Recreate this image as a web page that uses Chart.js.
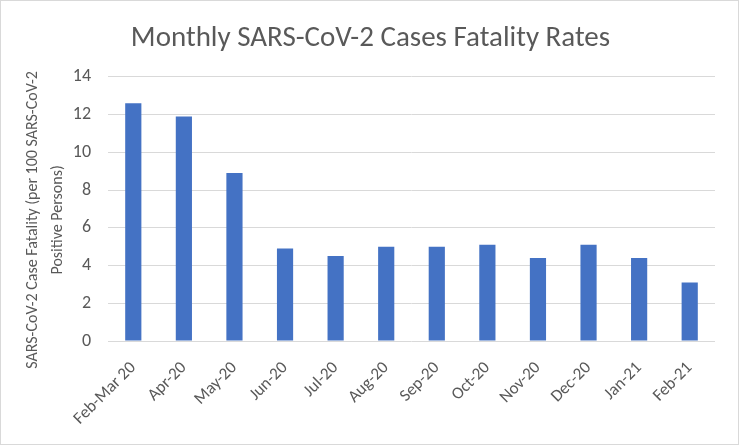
<!DOCTYPE html>
<html>
<head>
<meta charset="utf-8">
<script src="https://cdn.jsdelivr.net/npm/chart.js@4"></script>
<style>
html,body{margin:0;padding:0;background:#fff;}
#wrap{width:739px;height:445px;position:relative;}
</style>
</head>
<body>
<div id="wrap"><canvas id="c" width="739" height="445"></canvas></div>
<script>
const categories = ["Feb-Mar 20","Apr-20","May-20","Jun-20","Jul-20","Aug-20","Sep-20","Oct-20","Nov-20","Dec-20","Jan-21","Feb-21"];
const fatalityRates = [12.6,11.9,8.9,4.9,4.5,5.0,5.0,5.1,4.4,5.1,4.4,3.1];
const yTicks = [0,2,4,6,8,10,12,14];
const yTitleLines = ['SARS-CoV-2 Case Fatality (per 100 SARS-CoV-2','Positive Persons)'];

const FONT = "Carlito, 'Open Sans', sans-serif";
const border = {
  id:'border',
  afterDraw(chart){
    const ctx = chart.ctx;
    ctx.save();
    ctx.strokeStyle = '#d9d9d9';
    ctx.lineWidth = 1;
    ctx.strokeRect(0.5,0.5,chart.width-1,chart.height-1);
    ctx.restore();
  }
};
const yTitle = {
  id:'yTitle',
  afterDraw(chart){
    const ctx = chart.ctx;
    const a = chart.chartArea;
    const cy = (a.top + a.bottom)/2 + 11;
    const xs = [33, 58];
    ctx.save();
    ctx.fillStyle = '#595959';
    ctx.font = "16px " + FONT;
    ctx.textAlign = 'center';
    ctx.textBaseline = 'middle';
    yTitleLines.forEach((t,i)=>{
      ctx.save();
      ctx.translate(xs[i], cy);
      ctx.rotate(-Math.PI/2);
      ctx.fillText(t,0,0);
      ctx.restore();
    });
    ctx.restore();
  }
};

new Chart(document.getElementById('c'), {
  type:'bar',
  data:{
    labels:categories,
    datasets:[{
      data:fatalityRates,
      backgroundColor:'#4472C4',
      borderColor:'#4472C4',
      borderWidth:0,
      barPercentage:0.32,
      categoryPercentage:1.0
    }]
  },
  options:{
    responsive:false,
    animation:false,
    devicePixelRatio:1,
    layout:{padding:{left:26,right:24,top:0,bottom:0}},
    plugins:{
      legend:{display:false},
      tooltip:{enabled:false},
      title:{
        display:true,
        text:'Monthly SARS-CoV-2 Cases Fatality Rates',
        color:'#595959',
        font:{family:FONT,size:29,weight:'normal'},
        padding:{top:21,bottom:21}
      }
    },
    scales:{
      x:{
        grid:{display:false,drawTicks:false},
        border:{display:false},
        ticks:{
          color:'#595959',
          font:{family:FONT,size:17},
          minRotation:45,maxRotation:45,
          autoSkip:false,
          padding:17
        },
        afterFit(s){ s.height = 104; }
      },
      y:{
        min:0,max:14,
        afterBuildTicks(s){ s.ticks = yTicks.map(v=>({value:v})); },
        grid:{color:'#d9d9d9',lineWidth:1,drawTicks:false},
        border:{display:false},
        ticks:{
          color:'#595959',
          font:{family:FONT,size:18},
          padding:17
        },
        title:{display:false},
        afterFit(s){ s.width = 82; }
      }
    }
  },
  plugins:[border, yTitle]
});
</script>
</body>
</html>
